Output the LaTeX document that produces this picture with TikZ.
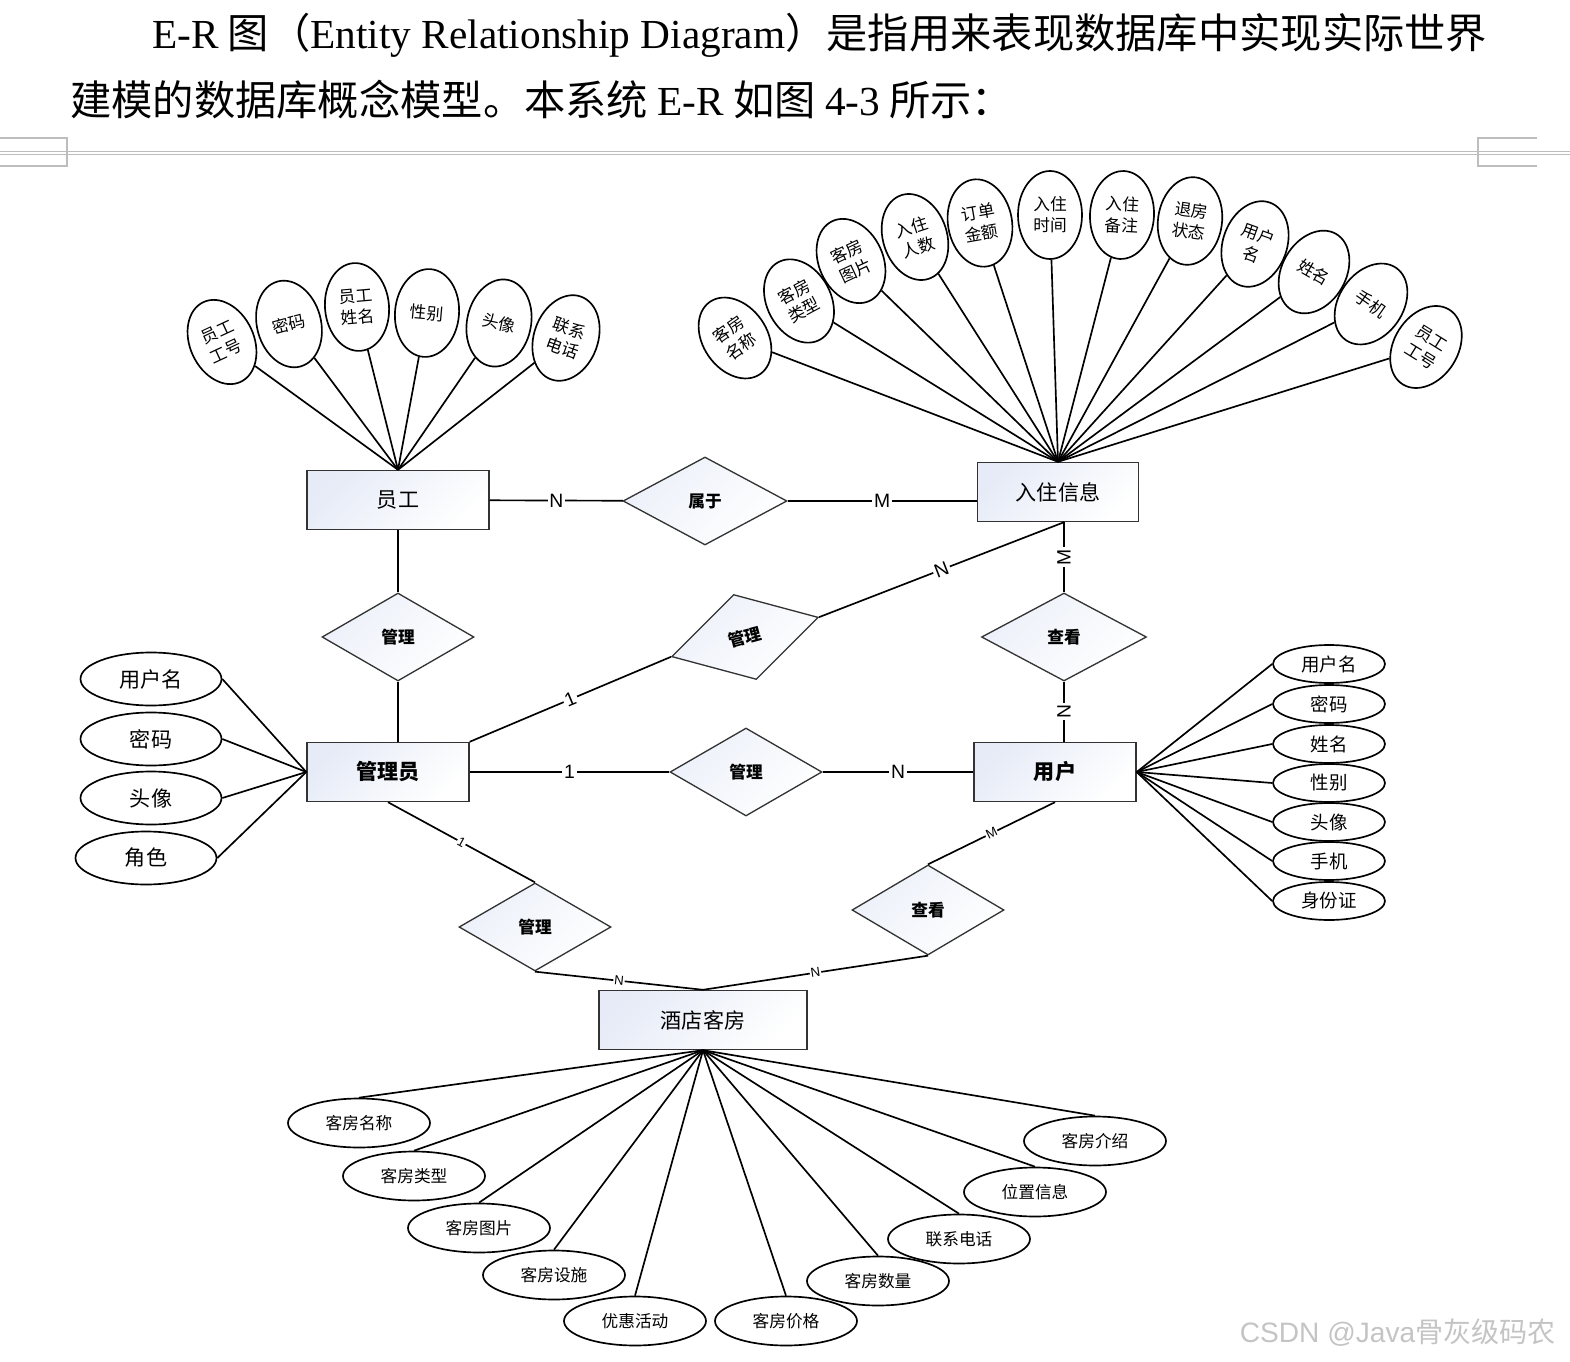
\documentclass[tikz,border=0pt]{standalone}
\usepackage{fontspec}
\setmainfont{Noto Sans CJK SC}
\newfontfamily\lat{Liberation Serif}
\newfontfamily\lab{Liberation Sans}
\usetikzlibrary{shapes.geometric,calc}
\definecolor{entfill}{HTML}{E6EBF7}
\definecolor{relfill}{HTML}{ECF0F9}
\definecolor{pageline}{HTML}{BDBDBD}
\definecolor{wmark}{HTML}{C4C4C4}
\newlength\pxu
\setlength\pxu{0.02cm}
\newcommand\fsz[2]{\fontsize{#1pt}{#2pt}\selectfont}

\begin{document}
\begin{tikzpicture}[x=0.02cm, y=-0.02cm,
  conn/.style={line width=0.95pt},
  entity/.style={draw=black!80, line width=0.8pt, top color=entfill, bottom color=white, shading angle=45,
    minimum width=162\pxu, minimum height=59\pxu, inner sep=0pt, font=\fsz{12}{14}},
  relation/.style={diamond, draw=black!80, line width=0.75pt, top color=relfill, bottom color=white, shading angle=45,
    minimum width=152\pxu, minimum height=88\pxu, inner sep=0pt, font=\bfseries\fsz{9.5}{11}},
  attrv/.style={ellipse, draw, line width=0.95pt, minimum width=64\pxu, minimum height=88\pxu, inner sep=0pt,
    align=center, font=\fsz{9.5}{12}},
  attrw/.style={ellipse, draw, line width=0.95pt, minimum width=141\pxu, minimum height=53\pxu, inner sep=0pt, font=\fsz{12}{14}},
  attru/.style={ellipse, draw, line width=0.95pt, minimum width=112\pxu, minimum height=38\pxu, inner sep=0pt, font=\fsz{10.5}{12}},
  attrk/.style={ellipse, draw, line width=0.95pt, minimum width=142\pxu, minimum height=49\pxu, inner sep=0pt, font=\fsz{9.5}{11}},
  card/.style={fill=white, inner sep=1pt, font=\lab\fsz{11}{13}},
  cardsm/.style={fill=white, inner sep=0.5pt, font=\lab\fsz{7.5}{9}}]
\useasboundingbox (0,0) rectangle (1570,1362);

% page text and margin marks
\node[anchor=west, font=\fsz{23.5}{28}] (head1) at (146,35) {{\lat E-R} 图（{\lat Entity Relationship Diagram}）是指用来表现数据库中实现实际世界};
\node[anchor=west, font=\fsz{23.5}{28}] (head2) at (64,100) {建模的数据库概念模型。本系统 {\lat E-R} 如图 {\lat 4-3} 所示：};
\draw[pageline, line width=0.8pt] (0,151.5) -- (1570,151.5) (0,154.5) -- (1570,154.5);
\draw[pageline, line width=0.8pt] (0,138) -- (67,138) -- (67,166) -- (0,166);
\draw[pageline, line width=0.8pt] (1537,138) -- (1478,138) -- (1478,166) -- (1537,166);

% entities
\node[entity, minimum width=182\pxu] (yg) at (398,500) {员工};
\node[entity, minimum width=161\pxu] (rz) at (1058,492) {入住信息};
\node[entity, font=\bfseries\fsz{12}{14}] (gly) at (388,772) {管理员};
\node[entity, font=\bfseries\fsz{12}{14}] (yh) at (1055,772) {用户};
\node[entity, minimum width=208\pxu] (jd) at (703,1020) {酒店客房};

% relations
\node[relation, minimum width=164\pxu] (sy) at (705,501) {属于};
\node[relation] (gl1) at (398,637) {管理};
\node[relation, rotate=15] (gl2) at (745,637) {管理};
\node[relation, minimum width=165\pxu] (ck1) at (1064,637) {查看};
\node[relation] (gl3) at (746,772) {管理};
\node[relation] (gl4) at (535,927) {管理};
\node[relation, minimum height=90\pxu] (ck2) at (928,910) {查看};

% relation lines
\draw[conn] (yg) -- node[card] {N} (sy);
\draw[conn] (sy.east) -- node[card] {M} (sy.east -| rz.west);
\draw[conn] (yg) -- (gl1);
\draw[conn] (gl1) -- (gl1.south |- gly.north);
\draw[conn] (gly.north east) -- node[card, sloped] {1} (gl2.west);
\draw[conn] (gl2.east) -- node[card, sloped] {N} (ck1.north |- rz.south);
\draw[conn] (ck1.north |- rz.south) -- node[card, rotate=90] {M} (ck1.north);
\draw[conn] (ck1.south) -- node[card, rotate=90] {N} (ck1.south |- yh.north);
\draw[conn] (gly) -- node[card] {1} (gl3);
\draw[conn] (gl3) -- node[card] {N} (yh);
\draw[conn] (gly.south) -- node[cardsm, sloped] {1} (gl4.north);
\draw[conn] (gl4.south) -- node[cardsm, sloped] {N} (jd.north);
\draw[conn] (yh.south) -- node[cardsm, sloped] {M} (ck2.north);
\draw[conn] (ck2.south) -- node[cardsm, sloped] {N} (jd.north);

% attributes of 员工
\node[attrv, rotate=25] (ya1) at (222,342) {员工\\工号};
\node[attrv, rotate=15] (ya2) at (289,324) {密码};
\node[attrv, rotate=5] (ya3) at (357,307) {员工\\姓名};
\node[attrv, rotate=-5] (ya4) at (427,313) {性别};
\node[attrv, rotate=-12] (ya5) at (499,323) {头像};
\node[attrv, rotate=-20] (ya6) at (566,338) {联系\\电话};
\draw[conn] (ya1) -- (yg.north);
\draw[conn] (ya2) -- (yg.north);
\draw[conn] (ya3) -- (yg.north);
\draw[conn] (ya4) -- (yg.north);
\draw[conn] (ya5) -- (yg.north);
\draw[conn] (ya6) -- (yg.north);

% attributes of 入住信息
\node[attrv, rotate=35] (ra1) at (735,338) {客房\\名称};
\node[attrv, rotate=28] (ra2) at (799,301) {客房\\类型};
\node[attrv, rotate=25] (ra3) at (851,261) {客房\\图片};
\node[attrv, rotate=18] (ra4) at (915,237) {入住\\人数};
\node[attrv, rotate=10] (ra5) at (980,223) {订单\\金额};
\node[attrv] (ra6) at (1050,215) {入住\\时间};
\node[attrv, rotate=-3] (ra7) at (1122,215) {入住\\备注};
\node[attrv, rotate=-8] (ra8) at (1190,221) {退房\\状态};
\node[attrv, rotate=-20] (ra9) at (1255,244) {用户\\名};
\node[attrv, rotate=-30] (ra10) at (1314,272) {姓名};
\node[attrv, rotate=-35] (ra11) at (1371,304) {手机};
\node[attrv, rotate=-32] (ra12) at (1426,347) {员工\\工号};
\draw[conn] (ra1) -- (rz.north);
\draw[conn] (ra2) -- (rz.north);
\draw[conn] (ra3) -- (rz.north);
\draw[conn] (ra4) -- (rz.north);
\draw[conn] (ra5) -- (rz.north);
\draw[conn] (ra6) -- (rz.north);
\draw[conn] (ra7) -- (rz.north);
\draw[conn] (ra8) -- (rz.north);
\draw[conn] (ra9) -- (rz.north);
\draw[conn] (ra10) -- (rz.north);
\draw[conn] (ra11) -- (rz.north);
\draw[conn] (ra12) -- (rz.north);

% attributes of 管理员
\node[attrw] (ga1) at (151,679) {用户名};
\node[attrw] (ga2) at (151,739) {密码};
\node[attrw] (ga3) at (151,798) {头像};
\node[attrw] (ga4) at (146,858) {角色};
\draw[conn] (ga1.east) -- (gly.west);
\draw[conn] (ga2.east) -- (gly.west);
\draw[conn] (ga3.east) -- (gly.west);
\draw[conn] (ga4.east) -- (gly.west);

% attributes of 用户
\node[attru] (ua1) at (1329,664) {用户名};
\node[attru] (ua2) at (1329,704) {密码};
\node[attru] (ua3) at (1329,744) {姓名};
\node[attru] (ua4) at (1329,783) {性别};
\node[attru] (ua5) at (1329,822) {头像};
\node[attru] (ua6) at (1329,861) {手机};
\node[attru] (ua7) at (1329,901) {身份证};
\draw[conn] (ua1.west) -- (yh.east);
\draw[conn] (ua2.west) -- (yh.east);
\draw[conn] (ua3.west) -- (yh.east);
\draw[conn] (ua4.west) -- (yh.east);
\draw[conn] (ua5.west) -- (yh.east);
\draw[conn] (ua6.west) -- (yh.east);
\draw[conn] (ua7.west) -- (yh.east);

% attributes of 酒店客房
\node[attrk] (ka1) at (359,1123) {客房名称};
\node[attrk] (ka2) at (414,1176) {客房类型};
\node[attrk] (ka3) at (479,1228) {客房图片};
\node[attrk] (ka4) at (554,1275) {客房设施};
\node[attrk] (ka5) at (635,1321) {优惠活动};
\node[attrk] (ka6) at (786,1321) {客房价格};
\node[attrk] (ka7) at (878,1281) {客房数量};
\node[attrk] (ka8) at (959,1239) {联系电话};
\node[attrk] (ka9) at (1035,1192) {位置信息};
\node[attrk] (ka10) at (1095,1141) {客房介绍};
\draw[conn] (jd.south) -- (ka1.north);
\draw[conn] (jd.south) -- (ka2.north);
\draw[conn] (jd.south) -- (ka3.north);
\draw[conn] (jd.south) -- (ka4.north);
\draw[conn] (jd.south) -- (ka5.north);
\draw[conn] (jd.south) -- (ka6.north);
\draw[conn] (jd.south) -- (ka7.north);
\draw[conn] (jd.south) -- (ka8.north);
\draw[conn] (jd.south) -- (ka9.north);
\draw[conn] (jd.south) -- (ka10.north);

\node[anchor=east, text=wmark, font=\fsz{16}{18}] (mark) at (1562,1333) {{\lab CSDN @Java}骨灰级码农};
\end{tikzpicture}
\end{document}
